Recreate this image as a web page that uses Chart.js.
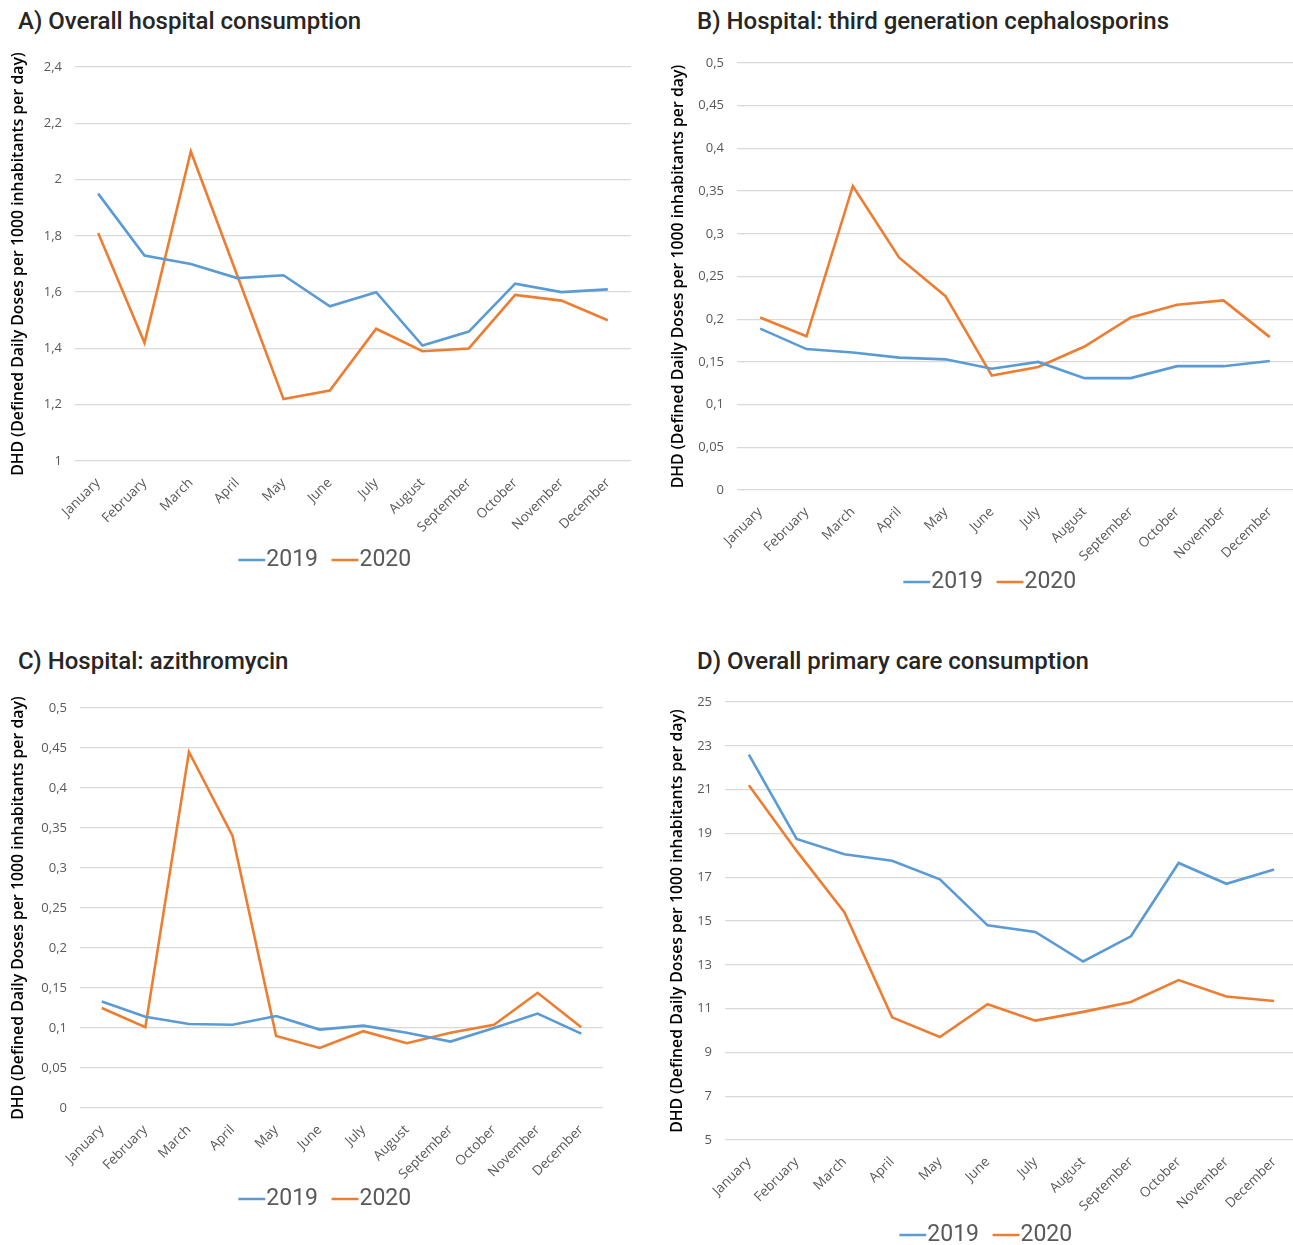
<!DOCTYPE html>
<html>
<head>
<meta charset="utf-8">
<script src="https://cdn.jsdelivr.net/npm/chart.js@4.4.1/dist/chart.umd.min.js"></script>
<style>
  html, body { margin:0; padding:0; background:#fff; width:1293px; height:1245px; overflow:hidden; }
  .title { position:absolute; font-family:Roboto, "Open Sans", sans-serif; font-weight:500; font-size:24px; line-height:24px; color:#262626; white-space:nowrap; }
  .box { position:absolute; }
</style>
</head>
<body>
<div class="title" style="left:18px; top:9px;">A) Overall hospital consumption</div>
<div class="title" style="left:697px; top:9px;">B) Hospital: third generation cephalosporins</div>
<div class="title" style="left:18px; top:649px;">C) Hospital: azithromycin</div>
<div class="title" style="left:697px; top:649px;">D) Overall primary care consumption</div>

<div class="box" style="left:0px; top:40px; width:650px; height:580px;"><canvas id="cA"></canvas></div>
<div class="box" style="left:650px; top:40px; width:650px; height:580px;"><canvas id="cB"></canvas></div>
<div class="box" style="left:0px; top:680px; width:650px; height:565px;"><canvas id="cC"></canvas></div>
<div class="box" style="left:650px; top:680px; width:650px; height:620px;"><canvas id="cD"></canvas></div>

<script>
// ---------- DATA ----------
const months = ['January','February','March','April','May','June','July','August','September','October','November','December'];
const seriesNames = ['2019', '2020'];
const yTitle = 'DHD (Defined Daily Doses per 1000 inhabitants per day)';

// A) Overall hospital consumption
const hospital2019 = [1.95, 1.73, 1.70, 1.65, 1.66, 1.55, 1.60, 1.41, 1.46, 1.63, 1.60, 1.61];
const hospital2020 = [1.81, 1.42, 2.10, 1.66, 1.22, 1.25, 1.47, 1.39, 1.40, 1.59, 1.57, 1.50];
const hospitalTicks = ['1', '1,2', '1,4', '1,6', '1,8', '2', '2,2', '2,4'];

// B) Hospital: third generation cephalosporins
const cephalo2019 = [0.189, 0.165, 0.161, 0.155, 0.153, 0.142, 0.150, 0.131, 0.131, 0.145, 0.145, 0.151];
const cephalo2020 = [0.202, 0.180, 0.356, 0.272, 0.227, 0.134, 0.144, 0.168, 0.202, 0.217, 0.222, 0.179];
const cephaloTicks = ['0', '0,05', '0,1', '0,15', '0,2', '0,25', '0,3', '0,35', '0,4', '0,45', '0,5'];

// C) Hospital: azithromycin
const azithro2019 = [0.133, 0.114, 0.105, 0.104, 0.115, 0.098, 0.103, 0.094, 0.083, 0.100, 0.118, 0.093];
const azithro2020 = [0.125, 0.101, 0.445, 0.340, 0.090, 0.075, 0.096, 0.081, 0.094, 0.104, 0.144, 0.101];
const azithroTicks = ['0', '0,05', '0,1', '0,15', '0,2', '0,25', '0,3', '0,35', '0,4', '0,45', '0,5'];

// D) Overall primary care consumption
const primary2019 = [22.6, 18.75, 18.05, 17.75, 16.9, 14.8, 14.5, 13.15, 14.3, 17.65, 16.7, 17.35];
const primary2020 = [21.2, 18.2, 15.4, 10.6, 9.7, 11.2, 10.45, 10.85, 11.3, 12.3, 11.55, 11.35];
const primaryTicks = ['5', '7', '9', '11', '13', '15', '17', '19', '21', '23', '25'];

// ---------- STYLE ----------
const BLUE = '#5B9BD5';
const ORANGE = '#ED7D31';
const GRID = '#d9d9d9';
const TICK = '#595959';

// legend placement plugin (moves legend to target centre, enlarges its clip box)
const legendMover = {
  id: 'legendMover',
  afterLayout(chart, args, opts) {
    const lg = chart.legend;
    if (!lg || opts.cx == null) return;
    const fs = lg.options.labels.font.size;
    const pad = lg.options.labels.padding;
    const curCx = (lg.left + lg.right) / 2;
    const curCy = lg.top + pad + fs / 2;
    const dx = opts.cx - curCx;
    const dy = opts.cy - curCy;
    lg.left += dx; lg.right += dx; lg.top += dy;
    lg.bottom = lg.top + 120;
    lg.height = 120;
    if (lg.legendHitBoxes) lg.legendHitBoxes.forEach(h => { h.left += dx; h.top += dy; });
  }
};
const legendHeightFix = {
  id: 'legendHeightFix',
  afterInit(chart, args, opts) {
    const lg = chart.legend;
    if (!lg) return;
    const orig = lg.fit.bind(lg);
    lg.fit = function() { orig(); this.height = opts.h; };
  }
};

function makeChart(id, v2019, v2020, ticks, min, max, step, geo) {
  const ctx = document.getElementById(id);
  return new Chart(ctx, {
    type: 'line',
    data: {
      labels: months,
      datasets: [
        { label: seriesNames[0], data: v2019, borderColor: BLUE, backgroundColor: BLUE, borderWidth: 2.6, pointRadius: 0, pointStyle: 'line', tension: 0 },
        { label: seriesNames[1], data: v2020, borderColor: ORANGE, backgroundColor: ORANGE, borderWidth: 2.6, pointRadius: 0, pointStyle: 'line', tension: 0 }
      ]
    },
    options: {
      responsive: true,
      maintainAspectRatio: false,
      animation: false,
      events: [],
      layout: { padding: { left: 0, right: geo.padR, top: geo.padT, bottom: 0 } },
      plugins: {
        title: { display: false },
        tooltip: { enabled: false },
        legend: {
          display: true,
          position: 'bottom',
          labels: {
            usePointStyle: true, pointStyle: 'line',
            boxWidth: 6, boxHeight: 19, padding: 24, color: TICK,
            font: { family: 'Roboto, "Open Sans", sans-serif', size: 23 }
          }
        },
        legendHeightFix: { h: 40 },
        legendMover: { cx: geo.legX, cy: geo.legY }
      },
      scales: {
        x: {
          type: 'category',
          offset: true,
          grid: { display: false },
          border: { display: false },
          ticks: {
            color: TICK, autoSkip: false, maxRotation: 45, minRotation: 45, padding: 6,
            font: { family: '"Open Sans", sans-serif', size: 13.5 }
          },
          afterFit(s) { s.height = geo.xH; }
        },
        y: {
          min: min, max: max,
          grid: { color: GRID, lineWidth: 1.3, drawTicks: false },
          border: { display: false },
          ticks: {
            stepSize: step, color: TICK, padding: 13,
            font: { family: '"Open Sans", sans-serif', size: 13 },
            callback: (v, i) => ticks[i]
          },
          title: {
            display: true, text: yTitle, color: '#000',
            font: { family: '"Open Sans", sans-serif', size: 15.8, weight: '600' },
            padding: { top: geo.titlePad, bottom: 0 }
          },
          afterFit(s) { s.width = geo.yW; }
        }
      }
    },
    plugins: [legendHeightFix, legendMover]
  });
}

makeChart('cA', hospital2019, hospital2020, hospitalTicks, 1, 2.4, 0.2,
  { padR: 19, padT: 27, yW: 75, xH: 119, legX: 330, legY: 520, titlePad: 9 });
makeChart('cB', cephalo2019, cephalo2020, cephaloTicks, 0, 0.5, 0.05,
  { padR: 7, padT: 23, yW: 87, xH: 90, legX: 345, legY: 542, titlePad: 19 });
makeChart('cC', azithro2019, azithro2020, azithroTicks, 0, 0.5, 0.05,
  { padR: 47, padT: 28, yW: 80, xH: 97, legX: 330, legY: 519, titlePad: 9 });
makeChart('cD', primary2019, primary2020, primaryTicks, 5, 25, 2,
  { padR: 2, padT: 22, yW: 75, xH: 120, legX: 341, legY: 555, titlePad: 18 });
</script>
</body>
</html>
